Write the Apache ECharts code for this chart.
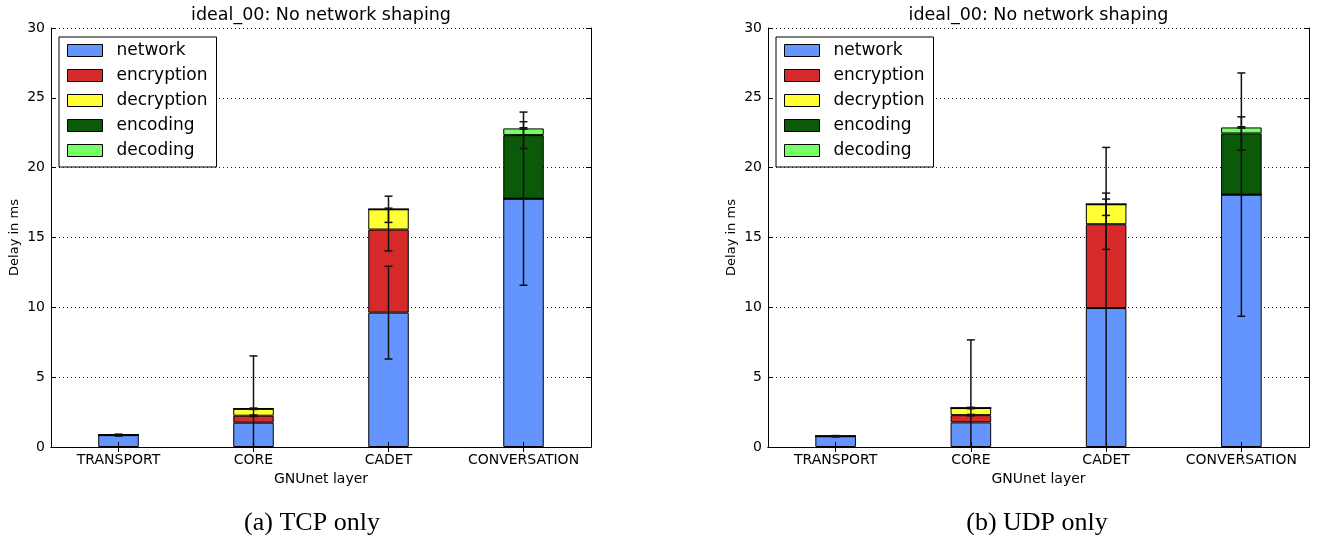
<!DOCTYPE html>
<html>
<head>
<meta charset="utf-8">
<script src="https://cdn.jsdelivr.net/npm/echarts@6/dist/echarts.min.js"></script>
<style>
  html, body { margin: 0; padding: 0; background: #fff; }
  #chart { width: 1325px; height: 535px; }
</style>
</head>
<body>
<div id="chart"></div>
<script>
// Categories and stack components
const layers = ['TRANSPORT', 'CORE', 'CADET', 'CONVERSATION'];
const components = ['network', 'encryption', 'decryption', 'encoding', 'decoding'];
const componentColors = ['#6495ff', '#d62a2a', '#ffff33', '#0a5a0a', '#77ff66'];

// Y axis range (ms)
const yMin = 0;
const yMax = 30;
const yStep = 5;

// (a) TCP only — mean delay per component, ms
const tcpNetwork    = [0.85, 1.74, 9.62, 17.78];
const tcpEncryption = [0, 0.50, 5.95, 0];
const tcpDecryption = [0, 0.50, 1.45, 0];
const tcpEncoding   = [0, 0, 0, 4.55];
const tcpDecoding   = [0, 0, 0, 0.48];
// (a) TCP only — standard deviation per component, ms
const tcpNetworkErr    = [0.07, 4.78, 3.32, 6.20];
const tcpEncryptionErr = [null, 0.05, 1.53, null];
const tcpDecryptionErr = [null, 0.05, 0.94, null];
const tcpEncodingErr   = [null, null, null, 0.96];
const tcpDecodingErr   = [null, null, null, 0.05];

// (b) UDP only — mean delay per component, ms
const udpNetwork    = [0.77, 1.76, 9.95, 18.07];
const udpEncryption = [0, 0.52, 6.00, 0];
const udpDecryption = [0, 0.51, 1.43, 0];
const udpEncoding   = [0, 0, 0, 4.38];
const udpDecoding   = [0, 0, 0, 0.43];
// (b) UDP only — standard deviation per component, ms
const udpNetworkErr    = [0.05, 5.91, 11.50, 8.71];
const udpEncryptionErr = [null, 0.05, 1.80, null];
const udpDecryptionErr = [null, 0.05, 0.80, null];
const udpEncodingErr   = [null, null, null, 1.19];
const udpDecodingErr   = [null, null, null, 0.05];

const panelTitle = 'ideal_00: No network shaping';
const xName = 'GNUnet layer';
const yName = 'Delay in ms';
const captions = ['(a) TCP only', '(b) UDP only'];

const panels = [
  {
    values: [tcpNetwork, tcpEncryption, tcpDecryption, tcpEncoding, tcpDecoding],
    errors: [tcpNetworkErr, tcpEncryptionErr, tcpDecryptionErr, tcpEncodingErr, tcpDecodingErr],
    grid: { left: 51, top: 28, width: 540, height: 419 },
    captionX: 312
  },
  {
    values: [udpNetwork, udpEncryption, udpDecryption, udpEncoding, udpDecoding],
    errors: [udpNetworkErr, udpEncryptionErr, udpDecryptionErr, udpEncodingErr, udpDecodingErr],
    grid: { left: 768, top: 28, width: 541, height: 419 },
    captionX: 1037
  }
];

const FONT = 'DejaVu Sans';

// Error bars sit on the top of each stacked segment
function errorItems(values, errors) {
  const items = [];
  const base = layers.map(() => 0);
  values.forEach((vals, k) => {
    vals.forEach((v, i) => {
      base[i] += v;
      const e = errors[k][i];
      if (e != null) items.push([i, base[i], e]);
    });
  });
  return items;
}

function renderErrorBar(params, api) {
  const i = api.value(0), c = api.value(1), e = api.value(2);
  const lo = Math.max(yMin, c - e);
  const hi = Math.min(yMax, c + e);
  const pLo = api.coord([i, lo]);
  const pHi = api.coord([i, hi]);
  const x = pHi[0];
  const cap = 4;
  const style = { stroke: '#111', lineWidth: 1.5 };
  const children = [
    { type: 'line', shape: { x1: x, y1: pLo[1], x2: x, y2: pHi[1] }, style }
  ];
  if (c + e <= yMax) children.push({ type: 'line', shape: { x1: x - cap, y1: pHi[1], x2: x + cap, y2: pHi[1] }, style });
  if (c - e >= yMin) children.push({ type: 'line', shape: { x1: x - cap, y1: pLo[1], x2: x + cap, y2: pLo[1] }, style });
  return { type: 'group', children };
}

const grids = [], xAxes = [], yAxes = [], series = [], legends = [], graphics = [];
const axisLine = { show: true, lineStyle: { color: '#000', width: 1 } };
const tickStyle = { show: true, inside: true, length: 5, lineStyle: { color: '#000', width: 1 } };

panels.forEach((p, g) => {
  grids.push(Object.assign({ containLabel: false }, p.grid));
  // bottom + top category axes
  xAxes.push({
    type: 'category', data: layers, gridIndex: g, position: 'bottom', z: 5,
    axisLine, axisTick: Object.assign({ alignWithLabel: true, interval: 0 }, tickStyle),
    axisLabel: { color: '#000', fontFamily: FONT, fontSize: 14, margin: 6, interval: 0 },
    name: xName, nameLocation: 'middle', nameGap: 24,
    nameTextStyle: { color: '#000', fontFamily: FONT, fontSize: 14 }
  });
  xAxes.push({
    type: 'category', data: layers, gridIndex: g, position: 'top', z: 5,
    axisLine, axisTick: Object.assign({ alignWithLabel: true, interval: 0 }, tickStyle),
    axisLabel: { show: false }
  });
  // left + right value axes
  yAxes.push({
    type: 'value', gridIndex: g, position: 'left', min: yMin, max: yMax, interval: yStep,
    axisLine, axisTick: tickStyle,
    axisLabel: { color: '#000', fontFamily: FONT, fontSize: 14, margin: 6 },
    splitLine: { show: true, lineStyle: { color: '#000', width: 1, type: [1, 3], opacity: 0.85 } },
    name: yName, nameLocation: 'middle', nameGap: 30,
    nameTextStyle: { color: '#000', fontFamily: FONT, fontSize: 13 }
  });
  yAxes.push({
    type: 'value', gridIndex: g, position: 'right', min: yMin, max: yMax, interval: yStep,
    axisLine, axisTick: tickStyle, axisLabel: { show: false }, splitLine: { show: false }
  });

  components.forEach((name, k) => {
    series.push({
      type: 'bar', name, stack: 'layer' + g,
      xAxisIndex: g * 2, yAxisIndex: g * 2,
      barWidth: '30%',
      data: p.values[k],
      itemStyle: { color: componentColors[k], borderColor: '#000', borderWidth: 1 },
      emphasis: { disabled: true }
    });
  });
  series.push({
    type: 'custom', name: 'std', xAxisIndex: g * 2, yAxisIndex: g * 2, z: 4,
    renderItem: renderErrorBar,
    data: errorItems(p.values, p.errors),
    silent: true
  });

  legends.push({
    data: components.map(name => ({ name, icon: 'rect' })),
    orient: 'vertical', selectedMode: false,
    left: p.grid.left + 8, top: p.grid.top + 9,
    backgroundColor: '#fff', borderColor: '#000', borderWidth: 1,
    padding: [5, 9, 8, 8],
    itemWidth: 35, itemHeight: 12, itemGap: 8,
    itemStyle: { borderColor: '#000', borderWidth: 1 },
    textStyle: { color: '#000', fontFamily: FONT, fontSize: 17, lineHeight: 17, padding: [0, 0, 0, 9] }
  });

  const cx = p.grid.left + p.grid.width / 2;
  graphics.push({
    type: 'text', x: cx, y: 15,
    style: { text: panelTitle, fill: '#000', font: '17.5px "DejaVu Sans"', textAlign: 'center', textVerticalAlign: 'middle' }
  });
  graphics.push({
    type: 'text', x: p.captionX, y: 523,
    style: { text: captions[g], fill: '#000', font: '26px "Liberation Serif"', textAlign: 'center', textVerticalAlign: 'middle' }
  });
});

const chart = echarts.init(document.getElementById('chart'), null, { renderer: 'canvas' });
chart.setOption({
  animation: false,
  backgroundColor: '#fff',
  grid: grids,
  xAxis: xAxes,
  yAxis: yAxes,
  legend: legends,
  series,
  graphic: graphics
});
</script>
</body>
</html>
